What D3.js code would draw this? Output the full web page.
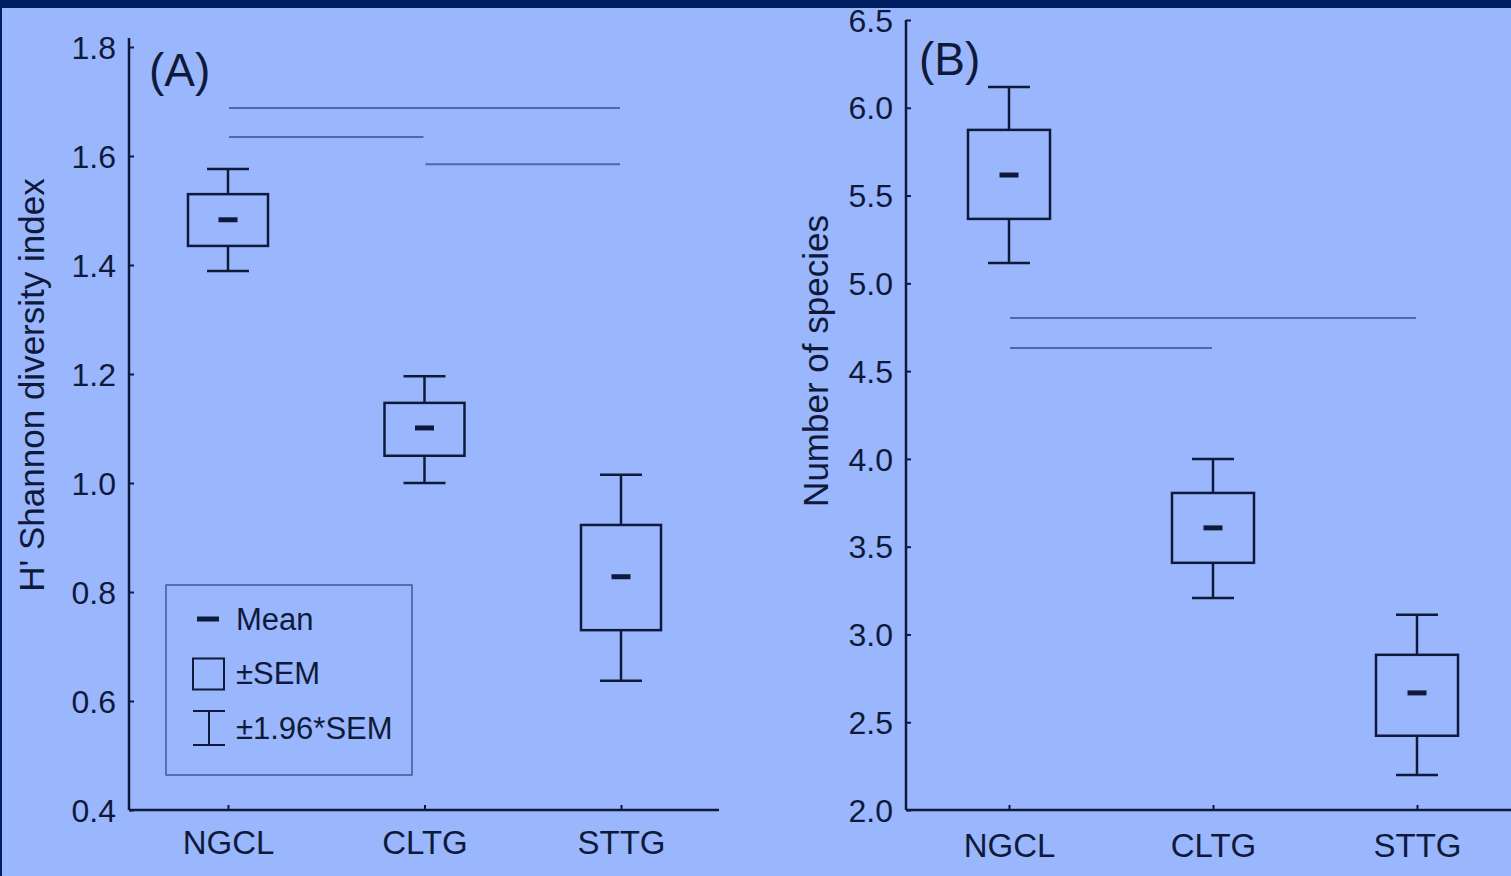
<!DOCTYPE html>
<html>
<head>
<meta charset="utf-8">
<script src="https://cdn.jsdelivr.net/npm/d3@7"></script>
<style>
  html, body { margin: 0; padding: 0; background: #001f60; }
  svg { display: block; font-family: "Liberation Sans", Arial, sans-serif; }
</style>
</head>
<body>
<svg id="chart" width="1511" height="876"></svg>
<script>
// categories
const groups = ["NGCL", "CLTG", "STTG"];

// panel A: Shannon diversity
const shannonMean = [1.483, 1.101, 0.828];
const shannonSemLow = [1.435, 1.050, 0.730];
const shannonSemHigh = [1.530, 1.147, 0.923];
const shannonCiLow = [1.389, 1.000, 0.637];
const shannonCiHigh = [1.576, 1.196, 1.015];
const shannonTicks = [0.4, 0.6, 0.8, 1.0, 1.2, 1.4, 1.6, 1.8];
const shannonSig = [
    { from: "NGCL", to: "STTG", y: 1.688 },
    { from: "NGCL", to: "CLTG", y: 1.635 },
    { from: "CLTG", to: "STTG", y: 1.585 }
];

// panel B: species number
const speciesMean = [5.617, 3.607, 2.667];
const speciesSemLow = [5.367, 3.408, 2.423];
const speciesSemHigh = [5.874, 3.806, 2.884];
const speciesCiLow = [5.116, 3.208, 2.200];
const speciesCiHigh = [6.118, 4.000, 3.112];
const speciesTicks = [2.0, 2.5, 3.0, 3.5, 4.0, 4.5, 5.0, 5.5, 6.0, 6.5];
const speciesSig = [
    { from: "NGCL", to: "STTG", y: 4.803 },
    { from: "NGCL", to: "CLTG", y: 4.632 }
];

const legendItems = ["Mean", "\u00b1SEM", "\u00b11.96*SEM"];

const ink = "#0f1a3a";
const sigColor = "#4d6aa6";

const svg = d3.select("#chart");

// light panel area (dark frame at top and left)
svg.append("rect")
    .attr("x", 2).attr("y", 8)
    .attr("width", 1511).attr("height", 876)
    .attr("fill", "#9ab6fd");

function drawPanel(cfg) {
    const g = svg.append("g");

    const y = d3.scaleLinear()
        .domain(cfg.domain)
        .range([cfg.bottom, cfg.top]);

    const x = d3.scalePoint()
        .domain(groups)
        .range([cfg.firstX, cfg.lastX]);

    // y axis: inward ticks
    const yAxis = d3.axisRight(y)
        .tickValues(cfg.ticks)
        .tickSize(5)
        .tickFormat(d3.format(".1f"));

    const ya = g.append("g")
        .attr("transform", `translate(${cfg.left},0)`)
        .call(yAxis);
    ya.select(".domain").remove();
    ya.selectAll("line").attr("stroke", ink).attr("stroke-width", 2);
    ya.selectAll("text")
        .attr("x", -13)
        .attr("dy", "0.35em")
        .attr("text-anchor", "end")
        .attr("fill", ink)
        .style("font-size", "32px")
        .style("font-family", "Liberation Sans, Arial, sans-serif");

    g.append("line")
        .attr("x1", cfg.left).attr("x2", cfg.left)
        .attr("y1", cfg.axisTop).attr("y2", cfg.bottom)
        .attr("stroke", ink).attr("stroke-width", 2.5);

    // x axis: inward ticks
    const xAxis = d3.axisTop(x).tickSize(5).tickPadding(0);
    const xa = g.append("g")
        .attr("transform", `translate(0,${cfg.bottom})`)
        .call(xAxis);
    xa.select(".domain").remove();
    xa.selectAll("line").attr("stroke", ink).attr("stroke-width", 2);
    xa.selectAll("text")
        .attr("y", cfg.labelDy)
        .attr("dy", "0.35em")
        .attr("fill", ink)
        .style("font-size", "33px")
        .style("font-family", "Liberation Sans, Arial, sans-serif");

    g.append("line")
        .attr("x1", cfg.left).attr("x2", cfg.right)
        .attr("y1", cfg.bottom).attr("y2", cfg.bottom)
        .attr("stroke", ink).attr("stroke-width", 2.5);

    // y title
    g.append("text")
        .attr("transform", `translate(${cfg.titleX},${cfg.titleY}) rotate(-90)`)
        .attr("text-anchor", "middle")
        .attr("dy", "0.35em")
        .attr("fill", ink)
        .style("font-size", "35px")
        .text(cfg.yTitle);

    // panel letter
    g.append("text")
        .attr("x", cfg.letterX).attr("y", cfg.letterY)
        .attr("fill", ink)
        .style("font-size", "46px")
        .text(cfg.letter);

    // significance lines
    g.selectAll(".sig")
        .data(cfg.sig)
        .enter().append("line")
        .attr("x1", d => x(d.from) + 1)
        .attr("x2", d => x(d.to) - 1)
        .attr("y1", d => y(d.y))
        .attr("y2", d => y(d.y))
        .attr("stroke", sigColor)
        .attr("stroke-width", 2);

    const rows = groups.map((grp, i) => ({
        grp: grp,
        mean: cfg.mean[i],
        semLow: cfg.semLow[i], semHigh: cfg.semHigh[i],
        ciLow: cfg.ciLow[i], ciHigh: cfg.ciHigh[i]
    }));

    const boxW = cfg.boxW, capW = cfg.capW;
    const item = g.selectAll(".item")
        .data(rows)
        .enter().append("g");

    // whiskers
    item.append("line")
        .attr("x1", d => x(d.grp)).attr("x2", d => x(d.grp))
        .attr("y1", d => y(d.ciHigh)).attr("y2", d => y(d.semHigh))
        .attr("stroke", ink).attr("stroke-width", 2.5);
    item.append("line")
        .attr("x1", d => x(d.grp)).attr("x2", d => x(d.grp))
        .attr("y1", d => y(d.semLow)).attr("y2", d => y(d.ciLow))
        .attr("stroke", ink).attr("stroke-width", 2.5);
    item.append("line")
        .attr("x1", d => x(d.grp) - capW / 2).attr("x2", d => x(d.grp) + capW / 2)
        .attr("y1", d => y(d.ciHigh)).attr("y2", d => y(d.ciHigh))
        .attr("stroke", ink).attr("stroke-width", 2.5);
    item.append("line")
        .attr("x1", d => x(d.grp) - capW / 2).attr("x2", d => x(d.grp) + capW / 2)
        .attr("y1", d => y(d.ciLow)).attr("y2", d => y(d.ciLow))
        .attr("stroke", ink).attr("stroke-width", 2.5);

    // boxes
    item.append("rect")
        .attr("x", d => x(d.grp) - boxW / 2)
        .attr("y", d => y(d.semHigh))
        .attr("width", boxW)
        .attr("height", d => y(d.semLow) - y(d.semHigh))
        .attr("fill", "none")
        .attr("stroke", ink).attr("stroke-width", 2.5);

    // means
    item.append("line")
        .attr("x1", d => x(d.grp) - 9.5).attr("x2", d => x(d.grp) + 9.5)
        .attr("y1", d => y(d.mean)).attr("y2", d => y(d.mean))
        .attr("stroke", ink).attr("stroke-width", 5);

    return g;
}

drawPanel({
    domain: [0.4, 1.8], ticks: shannonTicks,
    top: 47, bottom: 810, axisTop: 38, left: 129, right: 719,
    firstX: 228, lastX: 621, labelDy: 32,
    boxW: 80, capW: 42,
    mean: shannonMean, semLow: shannonSemLow, semHigh: shannonSemHigh,
    ciLow: shannonCiLow, ciHigh: shannonCiHigh, sig: shannonSig,
    yTitle: "H' Shannon diversity index", titleX: 32, titleY: 385,
    letter: "(A)", letterX: 149, letterY: 86
});

drawPanel({
    domain: [2.0, 6.5], ticks: speciesTicks,
    top: 20, bottom: 810, axisTop: 20, left: 906, right: 1511,
    firstX: 1009, lastX: 1417, labelDy: 35,
    boxW: 82, capW: 42,
    mean: speciesMean, semLow: speciesSemLow, semHigh: speciesSemHigh,
    ciLow: speciesCiLow, ciHigh: speciesCiHigh, sig: speciesSig,
    yTitle: "Number of species", titleX: 816, titleY: 361,
    letter: "(B)", letterX: 919, letterY: 75
});

// legend
const leg = svg.append("g").attr("transform", "translate(166,585)");
leg.append("rect")
    .attr("width", 246).attr("height", 190)
    .attr("fill", "none")
    .attr("stroke", "#3f5a93").attr("stroke-width", 1.5);

const legY = d3.scalePoint().domain(legendItems).range([34, 143]);

leg.append("line")
    .attr("x1", 31).attr("x2", 53)
    .attr("y1", legY("Mean")).attr("y2", legY("Mean"))
    .attr("stroke", ink).attr("stroke-width", 5);

leg.append("rect")
    .attr("x", 27).attr("y", legY("\u00b1SEM") - 15)
    .attr("width", 31).attr("height", 31)
    .attr("fill", "none")
    .attr("stroke", ink).attr("stroke-width", 2);

const iy = legY("\u00b11.96*SEM");
leg.append("path")
    .attr("d", `M27,${iy - 17}H59M43,${iy - 17}V${iy + 17}M27,${iy + 17}H59`)
    .attr("fill", "none")
    .attr("stroke", ink).attr("stroke-width", 2);

leg.selectAll(".lt")
    .data(legendItems)
    .enter().append("text")
    .attr("x", 70)
    .attr("y", d => legY(d))
    .attr("dy", "0.35em")
    .attr("fill", ink)
    .style("font-size", "31px")
    .text(d => d);
</script>
</body>
</html>
